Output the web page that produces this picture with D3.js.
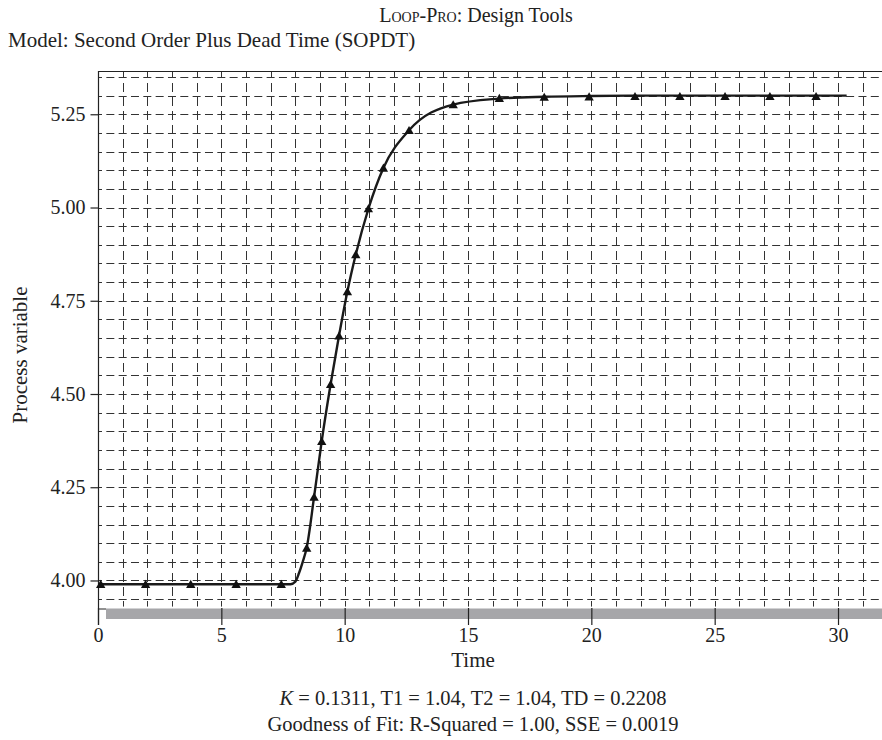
<!DOCTYPE html>
<html>
<head>
<meta charset="utf-8">
<script src="https://cdn.jsdelivr.net/npm/d3@7"></script>
<style>
  html, body { margin: 0; padding: 0; background: #fff; }
  svg { display: block; }
  text { font-family: "Liberation Serif", "Times New Roman", serif; fill: #222; }
</style>
</head>
<body>
<div id="chart"></div>
<script>
// ---- Data ----
const markerTimes  = [0.11, 1.93, 3.76, 5.60, 7.43, 8.46, 8.76, 9.07, 9.43, 9.77, 10.11, 10.45, 10.96, 11.57, 12.61, 14.40, 16.27, 18.09, 19.91, 21.77, 23.59, 25.42, 27.24, 29.11];
const markerValues = [3.99, 3.99, 3.99, 3.99, 3.99, 4.087, 4.224, 4.373, 4.526, 4.656, 4.775, 4.874, 4.997, 5.106, 5.207, 5.276, 5.293, 5.296, 5.297, 5.298, 5.298, 5.298, 5.298, 5.298];

const fitTimes  = [0, 7.8, 8.0, 8.15, 8.3, 8.46, 8.76, 9.07, 9.43, 9.77, 10.11, 10.45, 10.96, 11.57, 12.61, 14.40, 16.27, 18.09, 20.0, 22.0, 25.0, 30.35];
const fitValues = [3.99, 3.99, 3.997, 4.02, 4.05, 4.088, 4.224, 4.374, 4.526, 4.656, 4.775, 4.874, 4.996, 5.106, 5.207, 5.276, 5.292, 5.297, 5.299, 5.300, 5.300, 5.300];

const xTicks = [0, 5, 10, 15, 20, 25, 30];
const yTicks = [4.00, 4.25, 4.50, 4.75, 5.00, 5.25];
const xGrid = d3.range(1, 32, 1);
const yGrid = d3.range(3.95, 5.36, 0.05);

const titleText = "Model: Second Order Plus Dead Time (SOPDT)";
const xLabel = "Time";
const yLabel = "Process variable";
const paramLine = [["K", true], [" = 0.1311, T1 = 1.04, T2 = 1.04, TD = 0.2208", false]];
const fitLine = "Goodness of Fit: R-Squared = 1.00, SSE = 0.0019";

// ---- Layout ----
const W = 882, H = 740;
const pLeft = 98, pTop = 71, pBottom = 623;
const x = d3.scaleLinear().domain([0, 32]).range([pLeft, pLeft + 32 * 24.667]);
const y = d3.scaleLinear().domain([3.886, 5.366]).range([pBottom, pTop]);
const cx = 473;
const fontFam = "'Liberation Serif', 'Times New Roman', serif";

const svg = d3.select("#chart").append("svg").attr("width", W).attr("height", H);

// grid - horizontal
const gridColor = "#333";
svg.append("g").selectAll("line").data(yGrid).join("line")
  .attr("x1", pLeft).attr("x2", W)
  .attr("y1", d => Math.round(y(d)) + 0.5).attr("y2", d => Math.round(y(d)) + 0.5)
  .attr("stroke", gridColor).attr("stroke-width", 1)
  .attr("stroke-dasharray", "8,4.33").attr("stroke-dashoffset", 4);

// grid - vertical
svg.append("g").selectAll("line").data(xGrid).join("line")
  .attr("x1", d => Math.round(x(d)) + 0.5).attr("x2", d => Math.round(x(d)) + 0.5)
  .attr("y1", pTop).attr("y2", y(3.93))
  .attr("stroke", gridColor).attr("stroke-width", 1)
  .attr("stroke-dasharray", "9,5").attr("stroke-dashoffset", 2);

// gray bar
svg.append("rect").attr("x", 106).attr("y", 608.5).attr("width", W - 106).attr("height", 10.5)
  .attr("fill", "#a6a6a9");
svg.append("line").attr("x1", pLeft).attr("x2", 106).attr("y1", 609).attr("y2", 609)
  .attr("stroke", "#222").attr("stroke-width", 1);

// top border
svg.append("line").attr("x1", pLeft).attr("x2", W).attr("y1", pTop + 0.5).attr("y2", pTop + 0.5)
  .attr("stroke", "#222").attr("stroke-width", 1.2);
// y axis line
svg.append("line").attr("x1", pLeft + 0.5).attr("x2", pLeft + 0.5).attr("y1", pTop).attr("y2", 625)
  .attr("stroke", "#222").attr("stroke-width", 1.2);

// y axis ticks & labels
const yAxis = d3.axisLeft(y).tickValues(yTicks).tickFormat(d3.format(".2f")).tickSize(8).tickPadding(5);
const gy = svg.append("g").attr("transform", `translate(${pLeft + 0.5},0)`).call(yAxis);
gy.select(".domain").remove();
gy.selectAll(".tick line").attr("stroke", "#222").attr("stroke-width", 1.2);
gy.selectAll(".tick text").attr("font-size", 20).attr("fill", "#222").attr("font-family", fontFam);

// x axis ticks & labels
const xAxis = d3.axisBottom(x).tickValues(xTicks).tickFormat(d3.format("d")).tickSize(17).tickPadding(3);
const gx = svg.append("g").attr("transform", `translate(0,608)`).call(xAxis);
gx.select(".domain").remove();
gx.selectAll(".tick line").attr("stroke", "#222").attr("stroke-width", 1.2);
gx.selectAll(".tick text").attr("font-size", 20).attr("fill", "#222").attr("font-family", fontFam);

// fit curve
const pts = fitTimes.map((t, i) => [t, fitValues[i]]);
const line = d3.line().x(d => x(d[0])).y(d => y(d[1])).curve(d3.curveMonotoneX);
svg.append("path").datum(pts).attr("d", line)
  .attr("fill", "none").attr("stroke", "#1a1a1a").attr("stroke-width", 2.4);

// markers
const tri = d3.symbol().type(d3.symbolTriangle).size(38);
svg.append("g").selectAll("path").data(markerTimes.map((t, i) => [t, markerValues[i]])).join("path")
  .attr("d", tri)
  .attr("transform", d => `translate(${x(d[0])},${y(d[1]) + 1})`)
  .attr("fill", "#111");

// titles
const t1 = svg.append("text").attr("x", 476).attr("y", 21.5).attr("text-anchor", "middle").attr("font-size", 20);
t1.append("tspan").text("L");
t1.append("tspan").attr("font-size", 14).text("OOP");
t1.append("tspan").text("-P");
t1.append("tspan").attr("font-size", 14).text("RO");
t1.append("tspan").text(": Design Tools");

svg.append("text").attr("x", 8).attr("y", 46.5).attr("font-size", 21).text(titleText);

svg.append("text").attr("x", cx).attr("y", 667).attr("text-anchor", "middle").attr("font-size", 21).text(xLabel);

svg.append("text").attr("transform", `translate(27,355) rotate(-90)`)
  .attr("text-anchor", "middle").attr("font-size", 21).text(yLabel);

const pl = svg.append("text").attr("x", cx).attr("y", 705).attr("text-anchor", "middle").attr("font-size", 20.5);
paramLine.forEach(([s, it]) => pl.append("tspan").attr("font-style", it ? "italic" : "normal").text(s));

svg.append("text").attr("x", cx).attr("y", 731).attr("text-anchor", "middle").attr("font-size", 20.5).text(fitLine);
</script>
</body>
</html>
